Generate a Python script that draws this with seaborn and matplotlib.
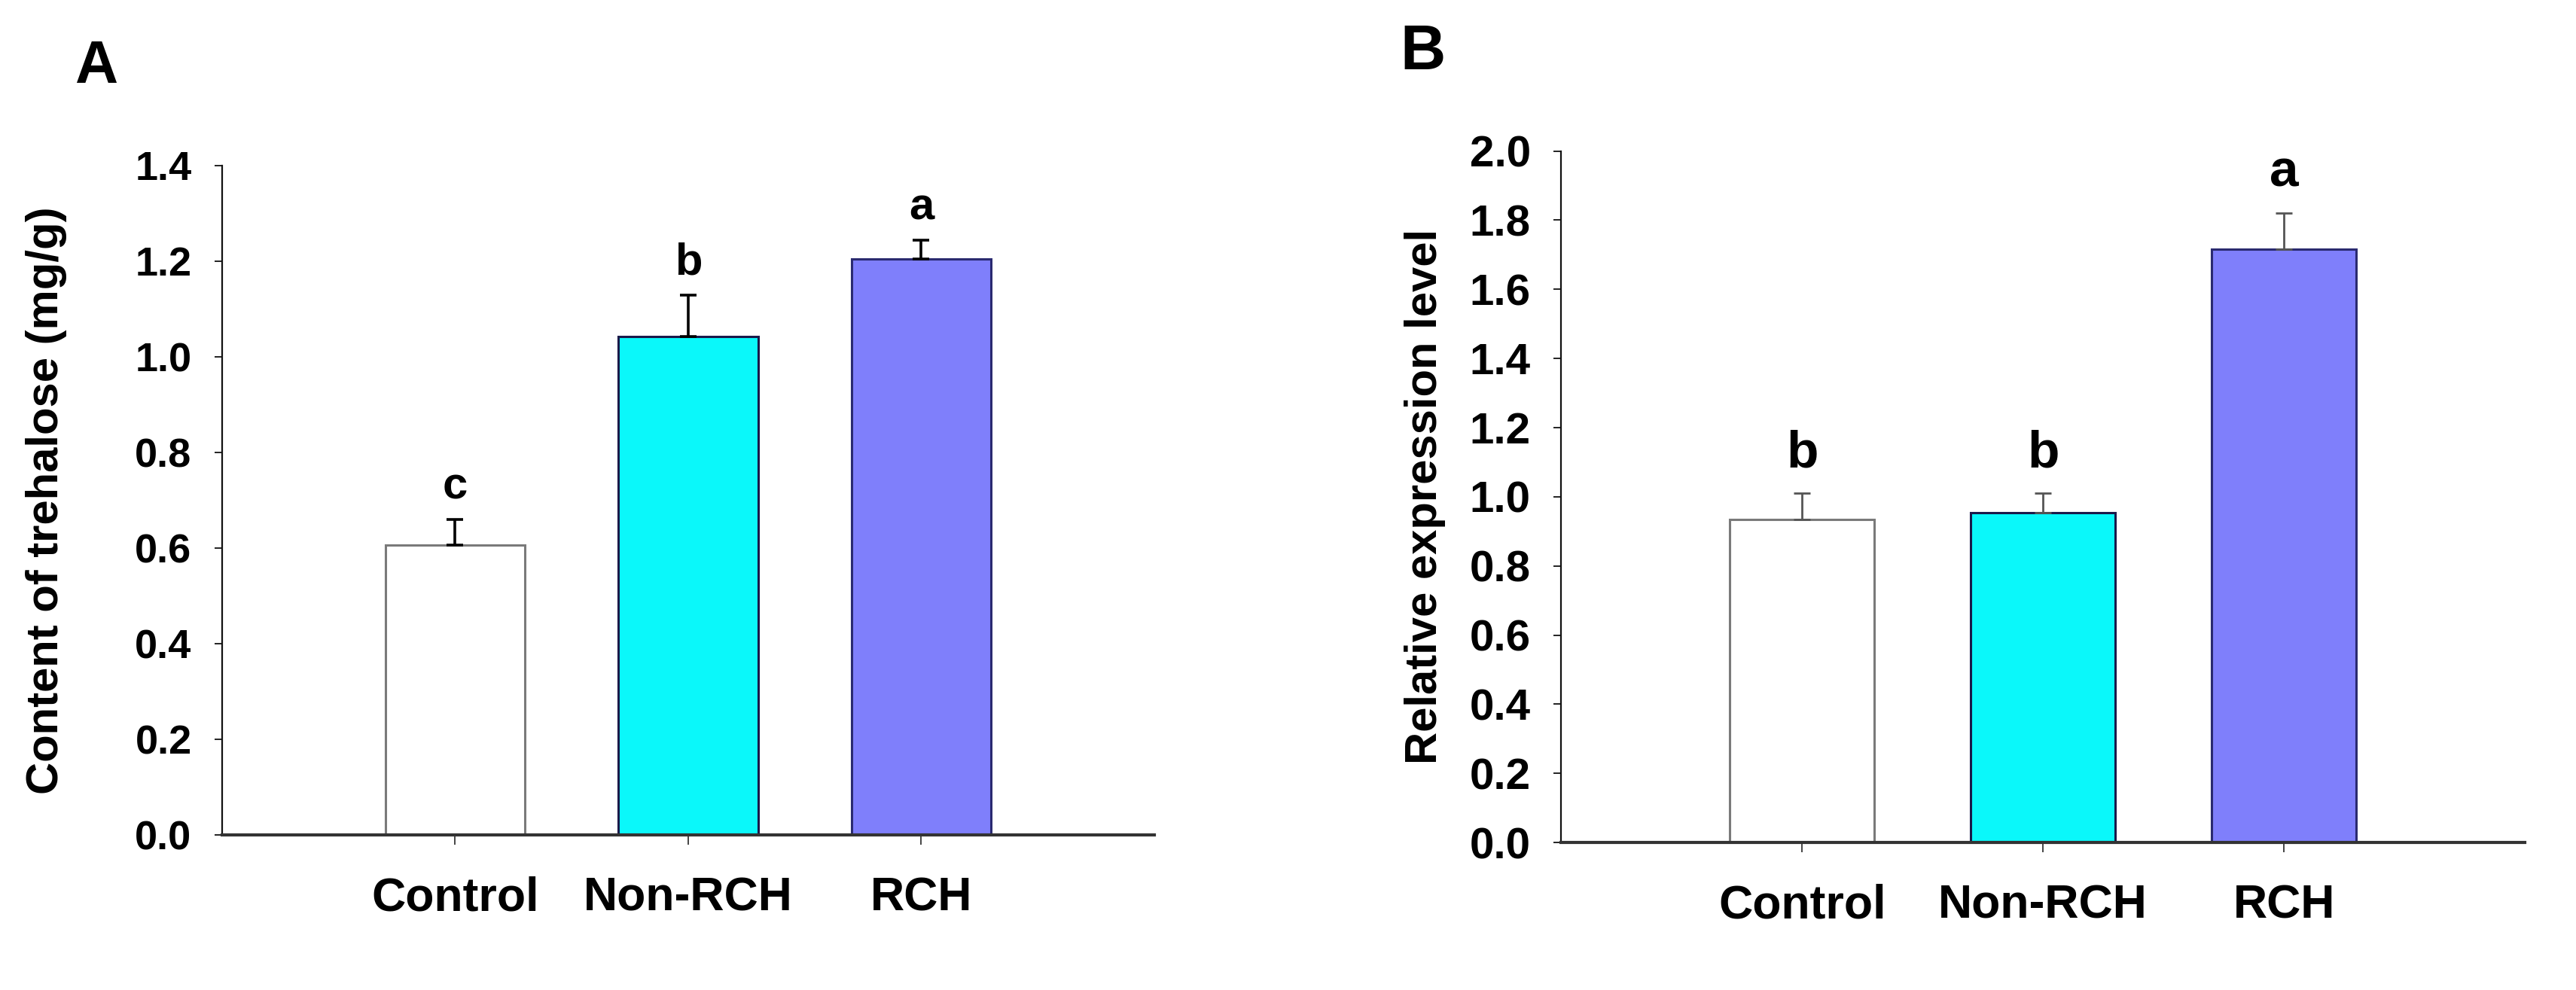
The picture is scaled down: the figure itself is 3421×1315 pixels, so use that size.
import matplotlib
matplotlib.use("Agg")
import matplotlib.pyplot as plt
import seaborn as sns
import pandas as pd

# ---- data ----
groups = ["Control", "Non-RCH", "RCH"]
trehalose_mean = [0.606, 1.042, 1.205]
trehalose_err = [0.054, 0.087, 0.039]
trehalose_letters = ["c", "b", "a"]

expr_mean = [0.935, 0.953, 1.716]
expr_err = [0.075, 0.057, 0.105]
expr_letters = ["b", "b", "a"]

bar_colors = ["#FFFFFF", "#0AF8FA", "#7F7FFB"]
edge_colors = ["#7A7A7A", "#1A1A4A", "#2A2A70"]

sns.set_theme(style="white")
plt.rcParams["font.family"] = ["Liberation Sans", "DejaVu Sans"]
plt.rcParams["font.weight"] = "bold"
plt.rcParams["text.color"] = "black"
plt.rcParams["axes.labelcolor"] = "black"
plt.rcParams["xtick.color"] = "black"
plt.rcParams["ytick.color"] = "black"

fig = plt.figure(figsize=(34.21, 13.15), dpi=100)
axA = fig.add_axes([0.0862, 0.1567, 0.3619, 0.676])
axB = fig.add_axes([0.6060, 0.1490, 0.3742, 0.6985])


def draw(ax, means, errs, letters, ylim, yticks, ylabel, err_color, err_lw,
         letter_off, letter_size, tick_size, xtick_size, label_x):
    df = pd.DataFrame({"group": groups, "value": means})
    sns.barplot(data=df, x="group", y="value", hue="group", palette=bar_colors,
                saturation=1, width=0.6, legend=False, ax=ax, errorbar=None,
                linewidth=2.2)
    for p, ec in zip(ax.patches, edge_colors):
        p.set_edgecolor(ec)
    ax.errorbar(range(len(groups)), means, yerr=[[0] * len(errs), errs],
                fmt="none", ecolor=err_color, elinewidth=err_lw, capsize=8,
                capthick=err_lw, zorder=1)
    for i, (m, e, l) in enumerate(zip(means, errs, letters)):
        ax.text(i, m + e + letter_off, l, ha="center", va="center",
                fontsize=letter_size, fontweight="bold", color="black")
    ax.set_xlim(-1, 3)
    ax.set_ylim(*ylim)
    ax.set_yticks(yticks)
    ax.set_yticklabels([f"{t:.1f}" for t in yticks])
    ax.set_xlabel("")
    ax.set_ylabel(ylabel, fontsize=43, fontweight="bold", labelpad=0,
                  color="black")
    ax.yaxis.set_label_coords(label_x, 0.5)
    for s in ["top", "right"]:
        ax.spines[s].set_visible(False)
    ax.spines["left"].set_linewidth(1.6)
    ax.spines["left"].set_color("#111111")
    ax.spines["bottom"].set_linewidth(3.0)
    ax.spines["bottom"].set_color("#333333")
    ax.spines["bottom"].set_zorder(5)
    ax.tick_params(axis="y", which="both", left=True, length=7, width=1.4,
                   color="#222222", pad=22, labelsize=tick_size,
                   labelcolor="black")
    ax.tick_params(axis="x", which="both", bottom=True, length=9, width=1.4,
                   color="#444444", pad=30, labelsize=xtick_size,
                   labelcolor="black")
    for t in ax.get_xticklabels() + ax.get_yticklabels():
        t.set_fontweight("bold")
    ax.set_facecolor("white")


draw(axA, trehalose_mean, trehalose_err, trehalose_letters, (0, 1.4),
     [0.0, 0.2, 0.4, 0.6, 0.8, 1.0, 1.2, 1.4], "Content of trehalose (mg/g)",
     "black", 2.6, 0.068, 43, 39, 45, -0.166)
draw(axB, expr_mean, expr_err, expr_letters, (0, 2.0),
     [0.0, 0.2, 0.4, 0.6, 0.8, 1.0, 1.2, 1.4, 1.6, 1.8, 2.0],
     "Relative expression level", "#555555", 2.0, 0.115, 50, 42, 45, -0.12)

fig.text(128 / 3421, 1 - 90 / 1315, "A", fontsize=57, fontweight="bold",
         ha="center", va="center", color="black")
fig.text(1890 / 3421, 1 - 70 / 1315, "B", fontsize=60, fontweight="bold",
         ha="center", va="center", color="black")

fig.savefig("out.png", dpi=100, facecolor="white")
